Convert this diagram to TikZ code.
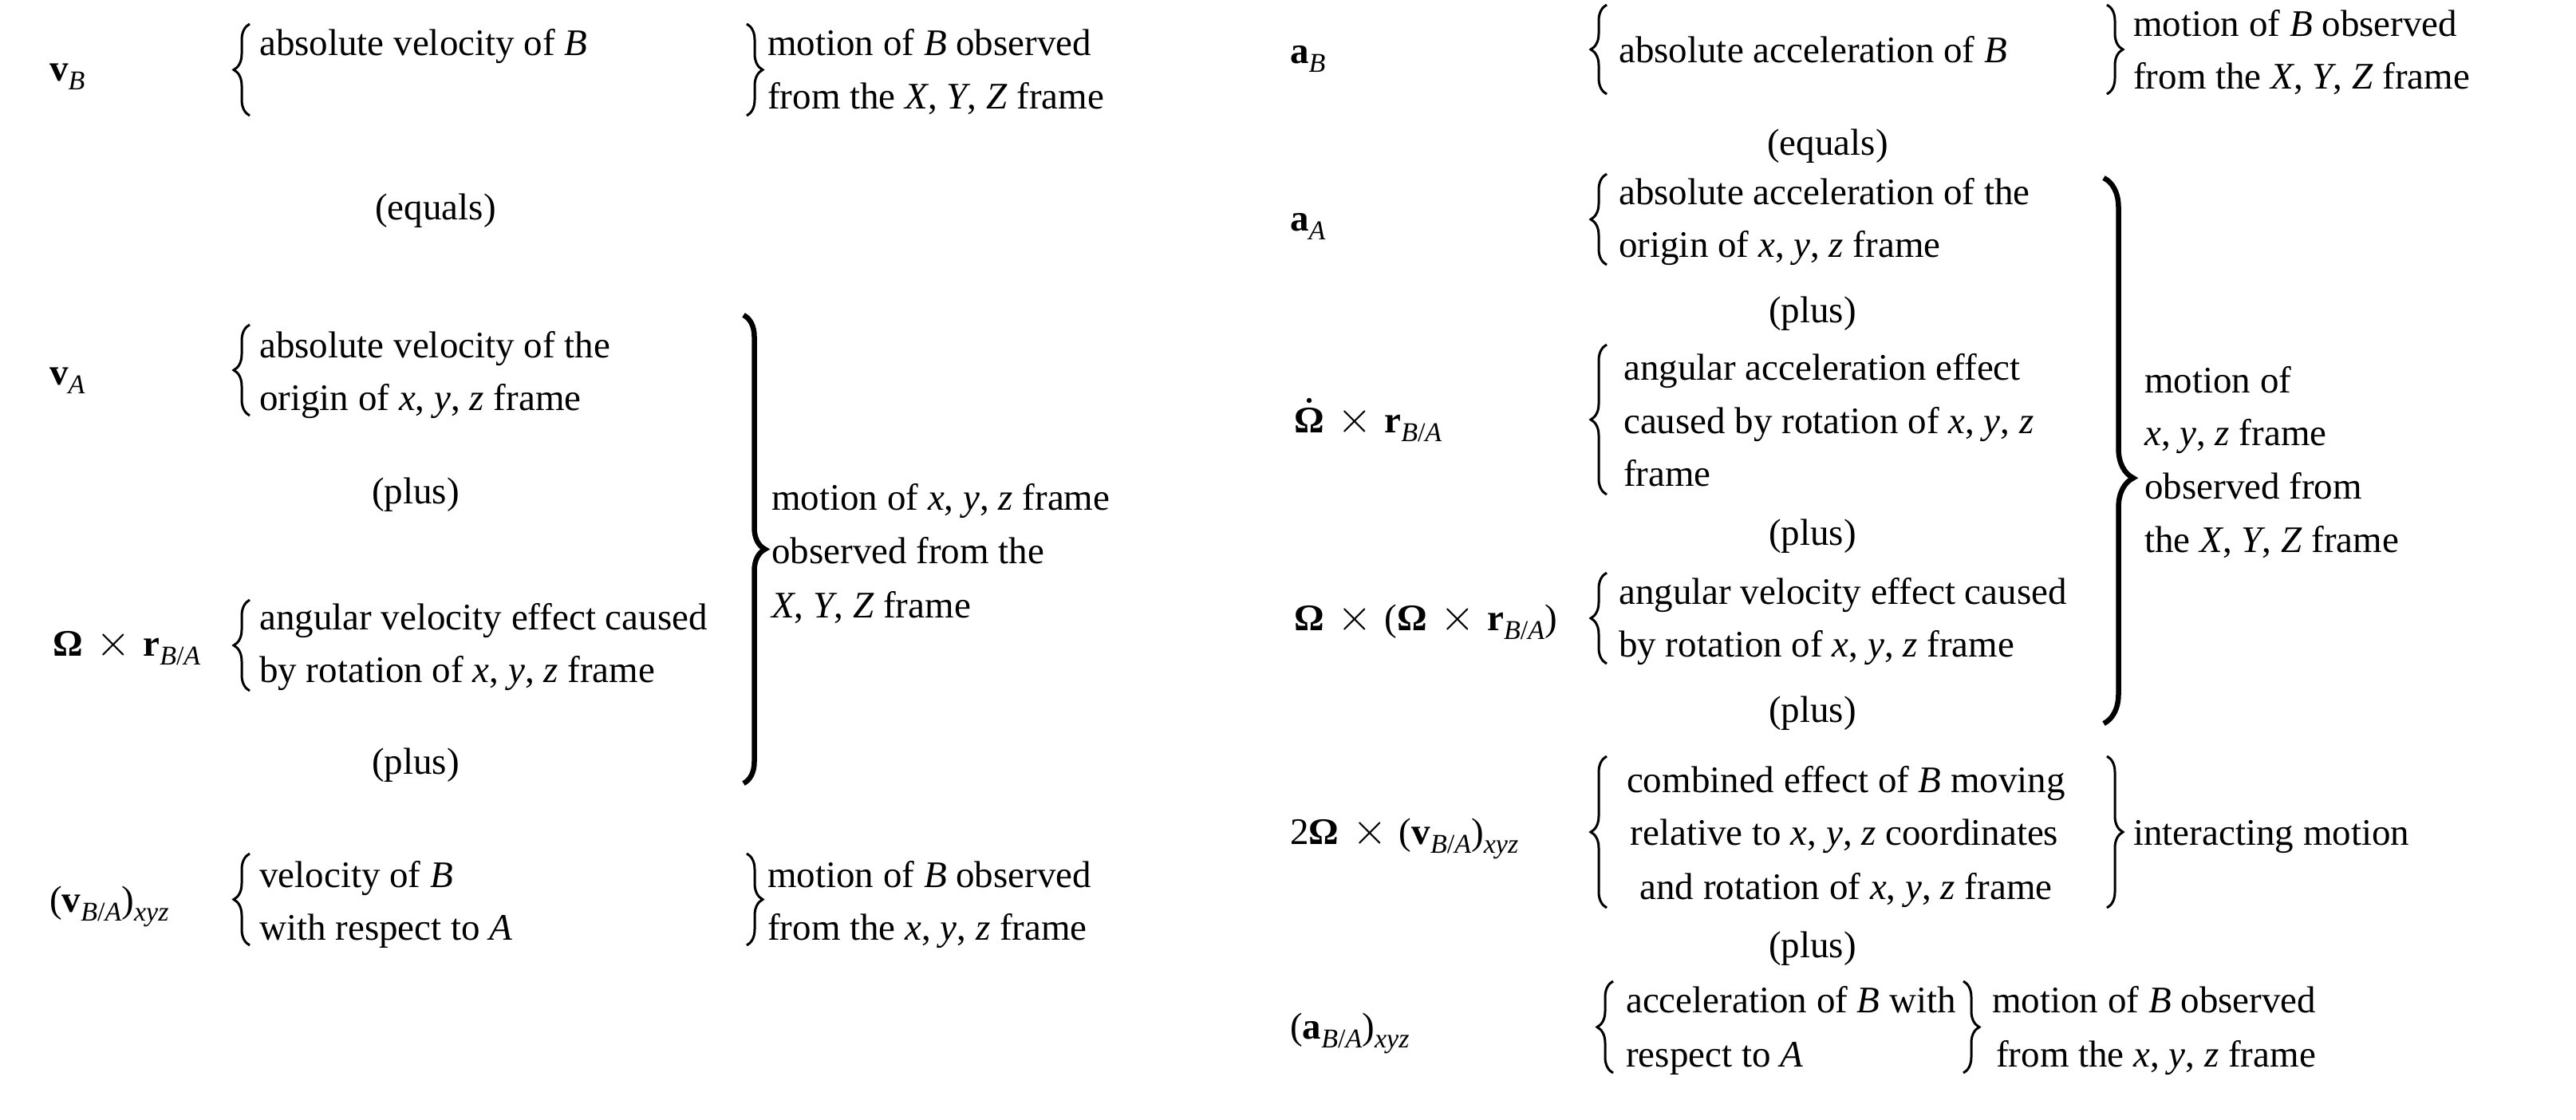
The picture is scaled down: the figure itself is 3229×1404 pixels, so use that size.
\RequirePackage{fix-cm}
\documentclass[tikz,border=0pt]{standalone}
\usepackage{fontspec}
\setmainfont{Liberation Serif}
\usetikzlibrary{decorations.pathreplacing}
\newcommand{\lsub}[1]{\raisebox{-11pt}{\fontsize{34}{34}\selectfont #1}}
\newcommand{\X}{\hspace{17pt}{\fontsize{56}{56}\selectfont$\times$}\hspace{15pt}}
\begin{document}
\begin{tikzpicture}[x=1pt,y=-1pt,font=\fontsize{47}{56}\selectfont,
  txt/.style={anchor=base west, inner sep=0pt},
  ctr/.style={anchor=base, inner sep=0pt},
  sbrace/.style={decorate, decoration={brace, amplitude=20pt, aspect=0.5}, line width=3pt},
  bbrace/.style 2 args={decorate, decoration={brace, amplitude=#1, aspect=#2}, line width=6.5pt}]
\useasboundingbox (0,0) rectangle (3229,1404);
% ---------------- left column ----------------
\node[txt] (vB) at (62,102) {\textbf{v}\lsub{\textit{B}}};
\coordinate (b1t) at (313,30); \coordinate (b1b) at (313,145);
\draw[sbrace] (b1b) -- (b1t);
\node[txt] (t1a) at (325,70) {absolute velocity of \textit{B}};
\coordinate (r1t) at (936,30); \coordinate (r1b) at (936,145);
\draw[sbrace] (r1t) -- (r1b);
\node[txt] (m1a) at (962,70) {motion of \textit{B} observed};
\node[txt] (m1b) at (962,137) {from the \textit{X}, \textit{Y}, \textit{Z} frame};
\node[ctr] (eq1) at (546,276) {(equals)};

\node[txt] (vA) at (62,482) {\textbf{v}\lsub{\textit{A}}};
\coordinate (b2t) at (313,407); \coordinate (b2b) at (313,521);
\draw[sbrace] (b2b) -- (b2t);
\node[txt] (t2a) at (325,448) {absolute velocity of the};
\node[txt] (t2b) at (325,514) {origin of \textit{x}, \textit{y}, \textit{z} frame};
\node[ctr] (pl1) at (521,631) {(plus)};

\node[txt] (OmR) at (66,822) {\textbf{Ω}\X\textbf{r}\lsub{\textit{B}/\textit{A}}};
\coordinate (b3t) at (313,752); \coordinate (b3b) at (313,866);
\draw[sbrace] (b3b) -- (b3t);
\node[txt] (t3a) at (325,789) {angular velocity effect caused};
\node[txt] (t3b) at (325,855) {by rotation of \textit{x}, \textit{y}, \textit{z} frame};
\node[ctr] (pl2) at (521,970) {(plus)};

\coordinate (B1t) at (932,395); \coordinate (B1b) at (932,982);
\draw[bbrace={27pt}{0.5}] (B1t) -- (B1b);
\node[txt] (m2a) at (967,639) {motion of \textit{x}, \textit{y}, \textit{z} frame};
\node[txt] (m2b) at (967,706) {observed from the};
\node[txt] (m2c) at (967,774) {\textit{X}, \textit{Y}, \textit{Z} frame};

\node[txt] (vBA) at (62,1143) {(\textbf{v}\lsub{\textit{B}/\textit{A}})\lsub{\textit{xyz}}};
\coordinate (b4t) at (313,1070); \coordinate (b4b) at (313,1185);
\draw[sbrace] (b4b) -- (b4t);
\node[txt] (t4a) at (325,1112) {velocity of \textit{B}};
\node[txt] (t4b) at (325,1178) {with respect to \textit{A}};
\coordinate (r4t) at (936,1070); \coordinate (r4b) at (936,1185);
\draw[sbrace] (r4t) -- (r4b);
\node[txt] (m4a) at (962,1112) {motion of \textit{B} observed};
\node[txt] (m4b) at (962,1178) {from the \textit{x}, \textit{y}, \textit{z} frame};

% ---------------- right column ----------------
\node[txt] (aB) at (1617,80) {\textbf{a}\lsub{\textit{B}}};
\coordinate (c1t) at (2014,6); \coordinate (c1b) at (2014,118);
\draw[sbrace] (c1b) -- (c1t);
\node[txt] (t5) at (2029,79) {absolute acceleration of \textit{B}};
\coordinate (s1t) at (2641,6); \coordinate (s1b) at (2641,118);
\draw[sbrace] (s1t) -- (s1b);
\node[txt] (m5a) at (2674,46) {motion of \textit{B} observed};
\node[txt] (m5b) at (2674,112) {from the \textit{X}, \textit{Y}, \textit{Z} frame};
\node[ctr] (eq2) at (2291,195) {(equals)};

\node[txt] (aA) at (1617,290) {\textbf{a}\lsub{\textit{A}}};
\coordinate (c2t) at (2014,218); \coordinate (c2b) at (2014,332);
\draw[sbrace] (c2b) -- (c2t);
\node[txt] (t6a) at (2029,257) {absolute acceleration of the};
\node[txt] (t6b) at (2029,323) {origin of \textit{x}, \textit{y}, \textit{z} frame};
\node[ctr] (pl3) at (2272,405) {(plus)};

\node[txt] (OdR) at (1622,542) {\textbf{Ω}\X\textbf{r}\lsub{\textit{B}/\textit{A}}};
\fill ([shift={(19,-40)}]OdR.base west) circle (3.2pt);
\coordinate (c3t) at (2014,432); \coordinate (c3b) at (2014,620);
\draw[sbrace] (c3b) -- (c3t);
\node[txt] (t7a) at (2035,476) {angular acceleration effect};
\node[txt] (t7b) at (2035,543) {caused by rotation of \textit{x}, \textit{y}, \textit{z}};
\node[txt] (t7c) at (2035,609) {frame};
\node[ctr] (pl4) at (2272,683) {(plus)};

\node[txt] (OOR) at (1622,790) {\textbf{Ω}\X(\textbf{Ω}\X\textbf{r}\lsub{\textit{B}/\textit{A}})};
\coordinate (c4t) at (2014,718); \coordinate (c4b) at (2014,832);
\draw[sbrace] (c4b) -- (c4t);
\node[txt] (t8a) at (2029,757) {angular velocity effect caused};
\node[txt] (t8b) at (2029,823) {by rotation of \textit{x}, \textit{y}, \textit{z} frame};
\node[ctr] (pl5) at (2272,905) {(plus)};

\coordinate (B2t) at (2637,223); \coordinate (B2b) at (2637,907);
\draw[bbrace={37pt}{0.55}] (B2t) -- (B2b);
\node[txt] (m6a) at (2688,492) {motion of};
\node[txt] (m6b) at (2688,558) {\textit{x}, \textit{y}, \textit{z} frame};
\node[txt] (m6c) at (2688,625) {observed from};
\node[txt] (m6d) at (2688,692) {the \textit{X}, \textit{Y}, \textit{Z} frame};

\node[txt] (TwoO) at (1617,1058) {2\textbf{Ω}\X(\textbf{v}\lsub{\textit{B}/\textit{A}})\lsub{\textit{xyz}}};
\coordinate (c5t) at (2014,948); \coordinate (c5b) at (2014,1138);
\draw[sbrace] (c5b) -- (c5t);
\node[ctr] (t9a) at (2314,993) {combined effect of \textit{B} moving};
\node[ctr] (t9b) at (2312,1059) {relative to \textit{x}, \textit{y}, \textit{z} coordinates};
\node[ctr] (t9c) at (2314,1127) {and rotation of \textit{x}, \textit{y}, \textit{z} frame};
\coordinate (s5t) at (2641,948); \coordinate (s5b) at (2641,1138);
\draw[sbrace] (s5t) -- (s5b);
\node[txt] (m9) at (2674,1059) {interacting motion};
\node[ctr] (pl6) at (2272,1200) {(plus)};

\node[txt] (aBA) at (1617,1302) {(\textbf{a}\lsub{\textit{B}/\textit{A}})\lsub{\textit{xyz}}};
\coordinate (c6t) at (2022,1230); \coordinate (c6b) at (2022,1345);
\draw[sbrace] (c6b) -- (c6t);
\node[txt] (t10a) at (2038,1269) {acceleration of \textit{B} with};
\node[txt] (t10b) at (2038,1337) {respect to \textit{A}};
\coordinate (s6t) at (2461,1230); \coordinate (s6b) at (2461,1345);
\draw[sbrace] (s6t) -- (s6b);
\node[txt] (m10a) at (2497,1269) {motion of \textit{B} observed};
\node[txt] (m10b) at (2502,1337) {from the \textit{x}, \textit{y}, \textit{z} frame};
\end{tikzpicture}
\end{document}
